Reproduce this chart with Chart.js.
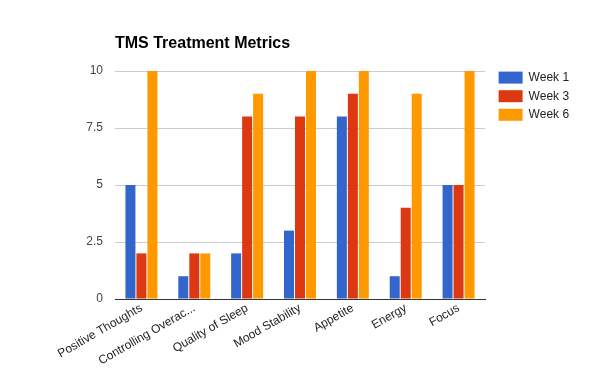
<!DOCTYPE html>
<html>
<head>
<meta charset="utf-8">
<script src="https://cdn.jsdelivr.net/npm/chart.js@4.4.0/dist/chart.umd.min.js"></script>
<style>
    body { margin: 0; background: #fff; }
    #wrap { position: relative; width: 600px; height: 371px; }
    #title {
        position: absolute; left: 115px; top: 34px;
        font: bold 16px "Liberation Sans", Arial, sans-serif; color: #000;
    }
</style>
</head>
<body>
<div id="wrap">
    <canvas id="tmsChart" width="600" height="371"></canvas>
    <div id="title">TMS Treatment Metrics</div>
</div>
<script>
// Metrics and weekly scores
const metrics = ['Positive Thoughts', 'Controlling Overac...', 'Quality of Sleep', 'Mood Stability', 'Appetite', 'Energy', 'Focus'];
const week1 = [5, 1, 2, 3, 8, 1, 5];
const week3 = [2, 2, 8, 8, 9, 4, 5];
const week6 = [10, 2, 9, 10, 10, 9, 10];
const yTicks = [0, 2.5, 5, 7.5, 10];

const FONT = '"Liberation Sans", Arial, sans-serif';

// Pin the legend to the right side like the original
const legendFix = {
    id: 'legendFix',
    afterInit(chart) {
        const legend = chart.legend;
        const fit = legend.fit.bind(legend);
        legend.fit = function () {
            fit();
            this.width = 115;
        };
    },
    afterLayout(chart) {
        chart.legend.left = 492;
        chart.legend.top = 65;
    }
};

const ctx = document.getElementById('tmsChart').getContext('2d');
new Chart(ctx, {
    type: 'bar',
    data: {
        labels: metrics,
        datasets: [
            { label: 'Week 1', data: week1, backgroundColor: '#3366cc' },
            { label: 'Week 3', data: week3, backgroundColor: '#dc3912' },
            { label: 'Week 6', data: week6, backgroundColor: '#ff9900' }
        ]
    },
    options: {
        responsive: false,
        animation: false,
        layout: { padding: { top: 71, left: 1, right: 0, bottom: 0 } },
        datasets: {
            bar: { categoryPercentage: 0.624, barPercentage: 0.91 }
        },
        plugins: {
            title: { display: false },
            tooltip: { enabled: false },
            legend: {
                position: 'right',
                align: 'start',
                labels: {
                    boxWidth: 24,
                    boxHeight: 12,
                    padding: 6.6,
                    color: '#222',
                    font: { family: FONT, size: 12 }
                }
            }
        },
        scales: {
            x: {
                grid: { display: false },
                border: { color: '#333', width: 1 },
                ticks: {
                    color: '#222',
                    font: { family: FONT, size: 12 },
                    minRotation: 30,
                    maxRotation: 30,
                    autoSkip: false,
                    padding: -6,
                    labelOffset: 0
                },
                afterFit(scale) { scale.height = 72; }
            },
            y: {
                min: 0,
                max: 10,
                border: { display: false },
                grid: { color: '#cccccc', drawTicks: false },
                afterBuildTicks(scale) {
                    scale.ticks = yTicks.map(v => ({ value: v }));
                },
                ticks: {
                    color: '#444',
                    font: { family: FONT, size: 12 },
                    padding: 12
                },
                afterFit(scale) { scale.width = 114; }
            }
        }
    },
    plugins: [legendFix]
});
</script>
</body>
</html>
